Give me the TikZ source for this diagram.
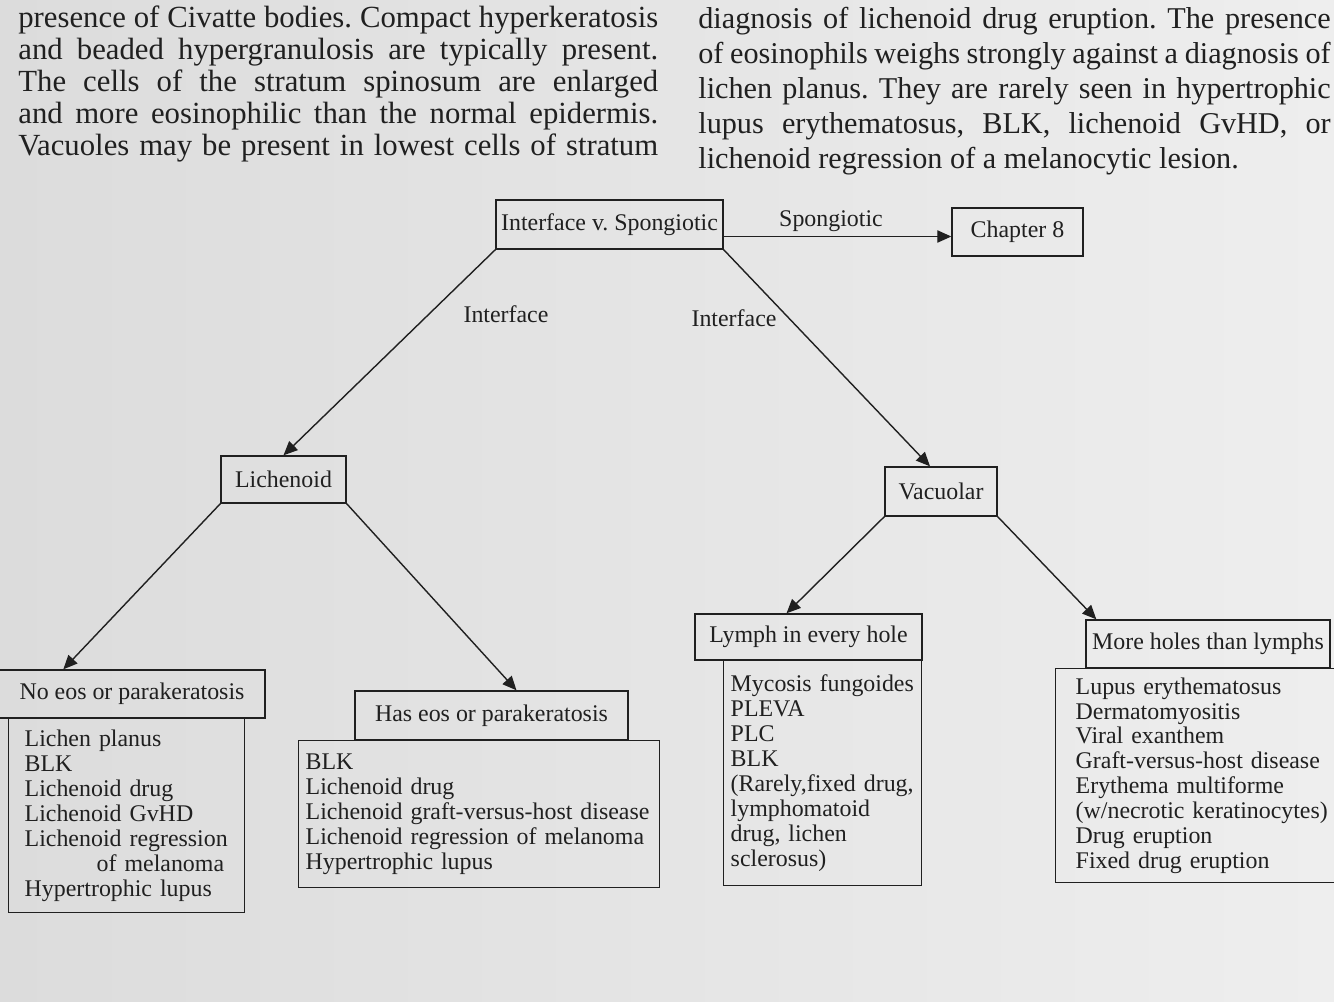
\documentclass[tikz,border=0pt]{standalone}
\usepackage{fontspec}
\setmainfont{Liberation Serif}
\usetikzlibrary{arrows.meta, positioning, calc}
\definecolor{pageleft}{RGB}{220,220,220}
\definecolor{pageright}{RGB}{238,238,238}
\definecolor{inkgray}{RGB}{32,32,32}
\frenchspacing
\newcommand{\jline}[2][12.8cm]{\makebox[#1][s]{#2}}

\begin{document}
\begin{tikzpicture}[x=0.02cm, y=-0.02cm,
  headbox/.style={draw=inkgray, line width=0.8pt, text=inkgray, inner sep=0pt,
    font=\fontsize{13.6}{14.2}\selectfont},
  listbox/.style={draw=inkgray, line width=0.8pt, text=inkgray, anchor=north west,
    align=left, inner ysep=0pt, font=\fontsize{13.6}{14.2}\selectfont},
  flow/.style={draw=inkgray, line width=0.8pt, -{Triangle[length=8pt, width=7pt]}},
  branchlbl/.style={text=inkgray, font=\fontsize{13.6}{14.2}\selectfont},
  bookpar/.style={text=inkgray, anchor=north west, inner sep=0pt, align=left}
]
\useasboundingbox (0,0) rectangle (1334,1001);
\clip (0,0) rectangle (1334,1001);
\shade[left color=pageleft, right color=pageright] (0,0) rectangle (1334,1001);

% text of the page above the chart
\node[bookpar, font=\fontsize{17.5}{18.3}\selectfont] (parleft) at (18,5) {%
  \jline{presence of Civatte bodies. Compact hyperkeratosis}\\
  \jline{and beaded hypergranulosis are typically present.}\\
  \jline{The cells of the stratum spinosum are enlarged}\\
  \jline{and more eosinophilic than the normal epidermis.}\\
  \jline{Vacuoles may be present in lowest cells of stratum}};
\node[bookpar, font=\fontsize{17.2}{19.9}\selectfont] (parright) at (698,7) {%
  \jline[12.65cm]{diagnosis of lichenoid drug eruption. The presence}\\
  \jline[12.65cm]{of eosinophils weighs strongly against a diagnosis of}\\
  \jline[12.65cm]{lichen planus. They are rarely seen in hypertrophic}\\
  \jline[12.65cm]{lupus erythematosus, BLK, lichenoid GvHD, or}\\
  lichenoid regression of a melanocytic lesion.};

% lists under the last decisions
\node[listbox, minimum width=4.72cm, minimum height=3.88cm, inner xsep=0.32cm,
  text width=4.08cm] (list1) at (8,718) {%
  Lichen planus\\ BLK\\ Lichenoid drug\\ Lichenoid GvHD\\ Lichenoid regression\\
  \hspace*{41pt}of melanoma\\ Hypertrophic lupus};
\node[listbox, minimum width=7.22cm, minimum height=2.94cm, inner xsep=0.14cm,
  text width=6.94cm] (list2) at (298,740) {%
  BLK\\ Lichenoid drug\\ Lichenoid graft-versus-host disease\\
  Lichenoid regression of melanoma\\ Hypertrophic lupus};
\node[listbox, minimum width=3.96cm, minimum height=4.5cm, inner xsep=0.14cm,
  text width=3.68cm] (list3) at (723,660) {%
  Mycosis fungoides\\ PLEVA\\ PLC\\ BLK\\ (Rarely,fixed drug,\\ lymphomatoid\\
  drug, lichen\\ sclerosus)};
\node[listbox, minimum width=5.9cm, minimum height=4.28cm, inner xsep=0.4cm,
  text width=5.1cm] (list4) at (1055,668) {%
  Lupus erythematosus\\ Dermatomyositis\\ Viral exanthem\\ Graft-versus-host disease\\
  Erythema multiforme\\ (w/necrotic keratinocytes)\\ Drug eruption\\ Fixed drug eruption};

% decision boxes
\node[headbox, minimum width=4.54cm, minimum height=0.98cm] (ivs) at (609.5,224.5) {Interface v. Spongiotic};
\node[headbox, minimum width=2.62cm, minimum height=0.96cm] (ch8) at (1017.5,232) {Chapter 8};
\node[headbox, minimum width=2.5cm, minimum height=0.94cm] (lich) at (283.5,479.5) {Lichenoid};
\node[headbox, minimum width=2.24cm, minimum height=0.98cm] (vac) at (941,491.5) {Vacuolar};
\node[headbox, minimum width=5.32cm, minimum height=0.96cm] (noeos) at (132,694) {No eos or parakeratosis};
\node[headbox, minimum width=5.46cm, minimum height=0.98cm] (haseos) at (491.5,715.5) {Has eos or parakeratosis};
\node[headbox, minimum width=4.54cm, minimum height=0.92cm] (lymph) at (808.5,637) {Lymph in every hole};
\node[headbox, minimum width=4.88cm, minimum height=0.96cm] (more) at (1208,644) {More holes than lymphs};

% branch labels
\node[branchlbl] (lblspg) at (831,221) {Spongiotic};
\node[branchlbl] (lblifl) at (506,314) {Interface};
\node[branchlbl] (lblifr) at (734,318) {Interface};

% connectors
\coordinate (spgstart) at ($(ivs.east)+(0,12)$);
\draw[flow] (spgstart) -- (spgstart -| ch8.west);
\draw[flow] (ivs.south west) -- (lich.north);
\draw[flow] (ivs.south east) -- ($(vac.north)+(-11,0)$);
\draw[flow] (lich.south west) -- ($(noeos.north west)+(65,0)$);
\draw[flow] (lich.south east) -- ($(haseos.north)+(25,0)$);
\draw[flow] (vac.south west) -- ($(lymph.north)+(-22,0)$);
\draw[flow] (vac.south east) -- ($(more.north west)+(11,0)$);
\end{tikzpicture}
\end{document}
